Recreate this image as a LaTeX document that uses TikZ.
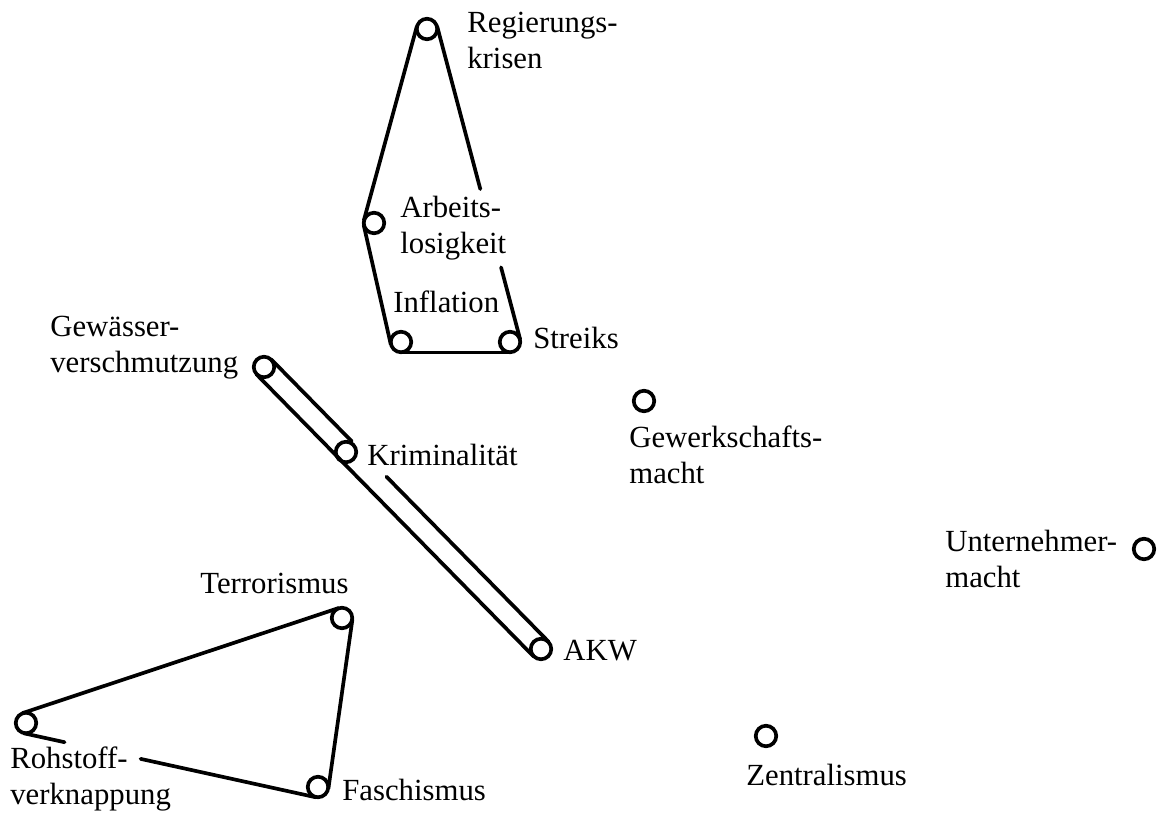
\documentclass[tikz,border=0pt]{standalone}
\usepackage{fontspec}
\setmainfont{Liberation Serif}
\usetikzlibrary{calc}

\begin{document}
\begin{tikzpicture}[x=0.02cm,y=-0.02cm,font=\fontsize{17.5}{20}\selectfont,
  dot/.style={circle,draw,line width=2.1pt,inner sep=0pt,minimum size=0.41cm},
  lbl/.style={anchor=base west,align=left,inner sep=0pt},
  hull/.style={line width=2.1pt,line cap=round}]
\useasboundingbox (0,0) rectangle (1160,818);
% items
\node[dot] (reg) at (427,29) {};
\node[dot] (arb) at (374,223) {};
\node[dot] (inf) at (401,342) {};
\node[dot] (str) at (510,342) {};
\node[dot] (gew) at (264,367) {};
\node[dot] (kri) at (346,452) {};
\node[dot] (akw) at (541,649) {};
\node[dot] (ter) at (342,618) {};
\node[dot] (roh) at (26,723) {};
\node[dot] (fas) at (318,787) {};
\node[dot] (gwm) at (644,401) {};
\node[dot] (unm) at (1144,549) {};
\node[dot] (zen) at (766,736) {};
% labels (base = last line)
\node[lbl] (lreg) at (467,68) {Regierungs-\\krisen};
\node[lbl] (larb) at (400,253) {Arbeits-\\losigkeit};
\node[lbl] (linf) at (393,312) {Inflation};
\node[lbl] (lstr) at (533,348) {Streiks};
\node[lbl] (lgew) at (50,372) {Gewässer-\\verschmutzung};
\node[lbl] (lkri) at (367,465) {Kriminalität};
\node[lbl] (lakw) at (563,660) {AKW};
\node[lbl] (lter) at (200,593) {Terrorismus};
\node[lbl] (lroh) at (10,804) {Rohstoff-\\verknappung};
\node[lbl] (lfas) at (342,800) {Faschismus};
\node[lbl] (lgwm) at (629,483) {Gewerkschafts-\\macht};
\node[lbl] (lunm) at (945,587) {Unternehmer-\\macht};
\node[lbl] (lzen) at (746,785) {Zentralismus};
% cluster 1
\coordinate (rs1) at ($(reg.center)!0.21cm!90:(str.center)$);
\coordinate (rs2) at ($(str.center)!0.21cm!-90:(reg.center)$);
\draw[hull] (rs1) -- ($(rs1)!0.52!(rs2)$) ($(rs1)!0.77!(rs2)$) -- (rs2);
\draw[hull] ($(str.center)!0.21cm!90:(inf.center)$) -- ($(inf.center)!0.21cm!-90:(str.center)$);
\draw[hull] ($(inf.center)!0.21cm!90:(arb.center)$) -- ($(arb.center)!0.21cm!-90:(inf.center)$);
\draw[hull] ($(arb.center)!0.21cm!90:(reg.center)$) -- ($(reg.center)!0.21cm!-90:(arb.center)$);
% cluster 2
\coordinate (ga1) at ($(gew.center)!0.21cm!90:(akw.center)$);
\coordinate (ga2) at ($(akw.center)!0.21cm!-90:(gew.center)$);
\draw[hull] (ga1) -- ($(ga1)!0.29!(ga2)$) ($(ga1)!0.415!(ga2)$) -- (ga2);
\draw[hull] ($(akw.center)!0.21cm!90:(gew.center)$) -- ($(gew.center)!0.21cm!-90:(akw.center)$);
% cluster 3
\draw[hull] ($(ter.center)!0.21cm!90:(fas.center)$) -- ($(fas.center)!0.21cm!-90:(ter.center)$);
\coordinate (fr1) at ($(fas.center)!0.21cm!90:(roh.center)$);
\coordinate (fr2) at ($(roh.center)!0.21cm!-90:(fas.center)$);
\draw[hull] (fr1) -- ($(fr1)!0.60!(fr2)$) ($(fr1)!0.86!(fr2)$) -- (fr2);
\draw[hull] ($(roh.center)!0.21cm!90:(ter.center)$) -- ($(ter.center)!0.21cm!-90:(roh.center)$);
\end{tikzpicture}
\end{document}
